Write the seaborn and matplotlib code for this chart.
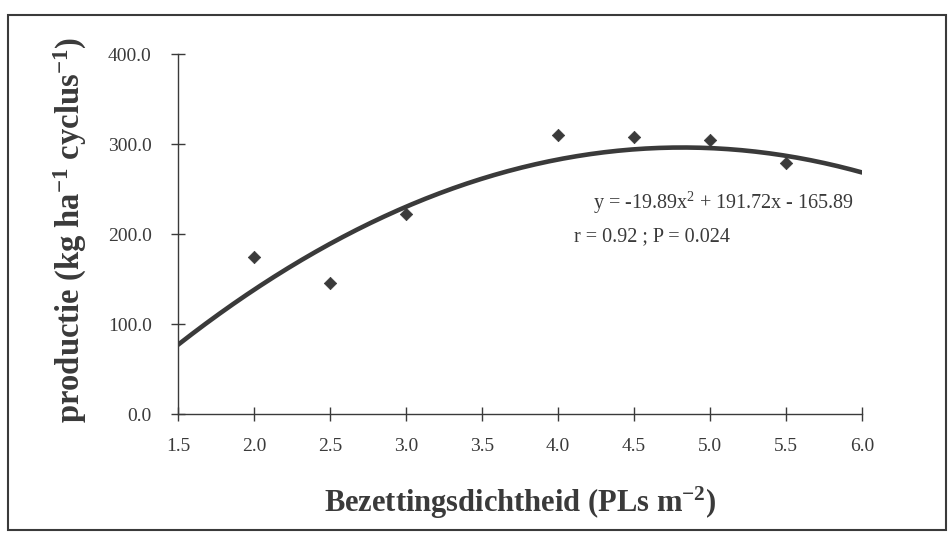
import numpy as np
import pandas as pd
import matplotlib
matplotlib.use("Agg")
import matplotlib.pyplot as plt
import seaborn as sns
from matplotlib.patches import Rectangle

# Data
density = [2.0, 2.5, 3.0, 4.0, 4.5, 5.0, 5.5]
production = [174, 146, 222, 310, 308, 304, 279]
# Fitted quadratic trendline coefficients (printed on the chart)
coef_a, coef_b, coef_c = -19.89, 191.72, -165.89
x_ticks = [1.5, 2.0, 2.5, 3.0, 3.5, 4.0, 4.5, 5.0, 5.5, 6.0]
y_ticks = [0, 100, 200, 300, 400]

sns.set_style("white")
plt.rcParams['font.family'] = ['Liberation Serif', 'DejaVu Serif']
plt.rcParams['mathtext.fontset'] = 'custom'
plt.rcParams['mathtext.rm'] = 'Liberation Serif'
plt.rcParams['mathtext.it'] = 'Liberation Serif:italic'
plt.rcParams['mathtext.bf'] = 'Liberation Serif:bold'

ink = '#3a3a3a'
fig = plt.figure(figsize=(9.49, 5.4), dpi=100)
ax = fig.add_axes([0.1876, 0.2333, 0.7207, 0.6667])

pts = pd.DataFrame({'x': density, 'y': production})
xs = np.linspace(x_ticks[0], x_ticks[-1], 200)
fit = pd.DataFrame({'x': xs, 'y': coef_a * xs**2 + coef_b * xs + coef_c})

sns.lineplot(data=fit, x='x', y='y', ax=ax, color=ink, linewidth=3.3)
sns.scatterplot(data=pts, x='x', y='y', ax=ax, marker='D', s=40, color=ink,
                edgecolor=ink, zorder=3)

ax.set_xlim(1.5, 6.0)
ax.set_ylim(0, 400)
ax.set_xticks(x_ticks)
ax.set_xticklabels([f"{v:.1f}" for v in x_ticks])
ax.set_yticks(y_ticks)
ax.set_yticklabels([f"{v:.1f}" for v in y_ticks])
for side in ['top', 'right']:
    ax.spines[side].set_visible(False)
for side in ['left', 'bottom']:
    ax.spines[side].set_color(ink)
    ax.spines[side].set_linewidth(1.0)
ax.tick_params(bottom=True, left=True, direction='inout', length=10, width=1.0,
               colors=ink, labelsize=14, labelcolor=ink)
ax.tick_params(axis='x', pad=12)
ax.tick_params(axis='y', pad=14)
ax.set_xlabel('')
ax.set_ylabel('')

fig.text(520/949, 1 - 503/540, r'Bezettingsdichtheid (PLs m$^{\mathbf{-2}}$)',
         ha='center', va='center', fontsize=22, fontweight='bold', color=ink)
fig.text(70/949, 1 - 230/540, r'productie (kg ha$^{\mathbf{-1}}$ cyclus$^{\mathbf{-1}}$)',
         ha='center', va='center', rotation=90, fontsize=23.5, fontweight='bold', color=ink)

fig.text(593/949, 1 - 203/540, r'y = -19.89x$^{2}$ + 191.72x - 165.89',
         ha='left', va='center', fontsize=14.5, color=ink)
fig.text(574/949, 1 - 237/540, 'r = 0.92 ; P = 0.024',
         ha='left', va='center', fontsize=14.5, color=ink)

fig.add_artist(Rectangle((8/949, 1 - 530/540), 938/949, 515/540,
                         transform=fig.transFigure, fill=False,
                         edgecolor=ink, linewidth=1.5))

fig.savefig('out.png', dpi=100)
